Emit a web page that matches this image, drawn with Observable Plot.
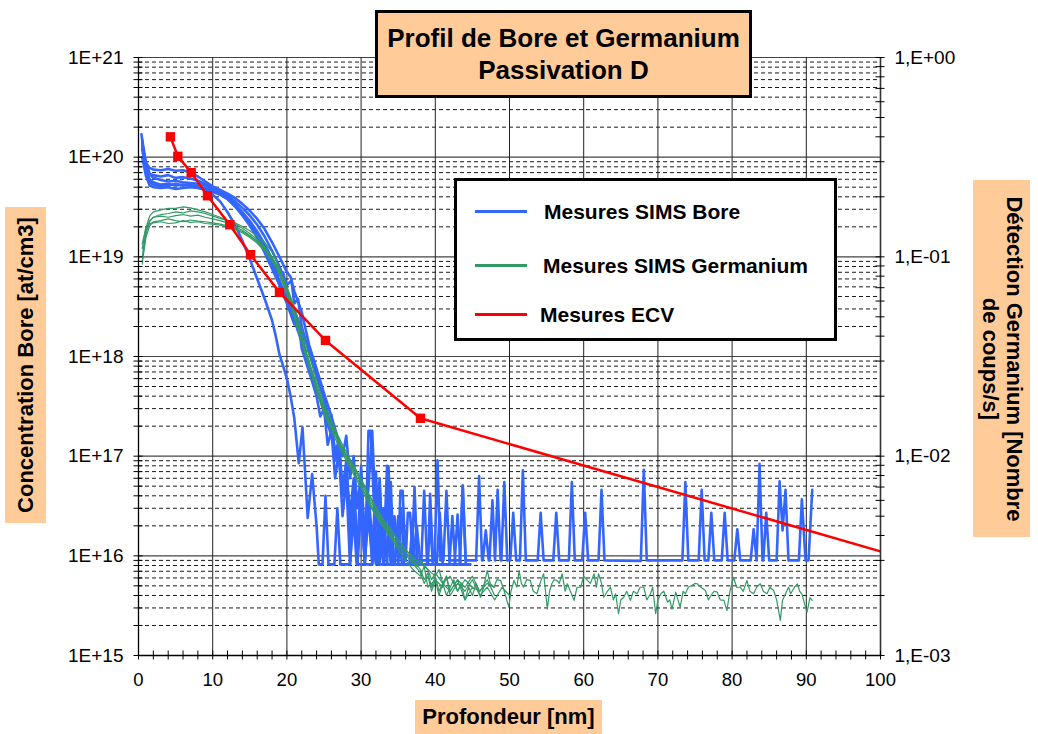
<!DOCTYPE html>
<html><head><meta charset="utf-8">
<script src="https://cdn.jsdelivr.net/npm/d3@7"></script>
<script src="https://cdn.jsdelivr.net/npm/@observablehq/plot@0.6"></script>
<style>
body{margin:0;background:#fff;}
#wrap{position:relative;width:1038px;height:734px;font-family:Arial,"Liberation Sans",sans-serif;color:#000;}
#wrap svg{position:absolute;left:0;top:0;}
.box{position:absolute;background:#ffcc99;box-sizing:border-box;font-weight:bold;}
.rot{position:absolute;left:50%;top:50%;white-space:nowrap;text-align:center;}
.leg-line{position:absolute;height:3px;width:52px;left:18px;}
.leg-text{position:absolute;font-weight:bold;font-size:21px;line-height:24px;white-space:nowrap;}
</style></head><body><div id="wrap"></div>
<script>
// ---------- data ----------
const xDomain = [0, 100];
const yDomain = [1e15, 1e21];                 // Concentration Bore [at/cm3]
const xMajorTicks = [0,10,20,30,40,50,60,70,80,90,100];
const xMinorTicks = [2,4,6,8,12,14,16,18,22,24,26,28,32,34,36,38,42,44,46,48,52,54,56,58,62,64,66,68,72,74,76,78,82,84,86,88,92,94,96,98];
const leftDecades = [1e15,1e16,1e17,1e18,1e19,1e20,1e21];
const leftLabels = ["1E+15","1E+16","1E+17","1E+18","1E+19","1E+20","1E+21"];
const minorMultiples = [2,3,4,5,6,7,8,9];
const rightDecades = [1e-3,1e-2,1e-1,1];      // Détection Germanium [coups/s]
const rightLabels = ["1,E-03","1,E-02","1,E-01","1,E+00"];

// SIMS Bore (at/cm3) : [profondeur nm, concentration]
const bore1 = [[0.4,1.7e20],[0.7,1.1e20],[1,9e19],[1.5,6.8e19],[2,6.2e19],[3,5.9e19],[4,5.7e19],[5,5.8e19],[6,5.6e19],[7,5.5e19],[8,5.4e19],[9,5.2e19],[10,4.9e19],[11,4.5e19],[12,4e19],[13,3.4e19],[14,2.8e19],[15,2.2e19],[16,1.7e19],[17,1.25e19],[18,8.6e18],[19,5.8e18],[20,3.8e18],[21,2.3e18],[22,1.4e18],[23,8e17],[24,4.8e17],[25,2.8e17],[26,1.6e17],[27,9e16],[27.5,5e16],[28,8e16],[28.5,2.5e16],[29,6e16],[29.5,1.2e16],[30,3.5e16],[30.5,9e15],[31,2.5e16],[31.5,9e15],[32,4.5e16],[32.5,1.6e16],[33,9e15],[33.5,8e16],[34,9e15],[35,9e15],[35.3,4.5e16],[35.6,4.5e16],[36,9e15],[36.3,2.7e16],[36.6,2.7e16],[37,9e15],[39.9,9e15],[40.3,9.1e16],[40.7,9e15],[41.1,9e15],[41.5,4.5e16],[41.9,9e15],[43.3,9e15],[43.7,5.1e16],[44.1,9e15],[45.5,9e15],[45.9,6.3e16],[46.3,9e15],[46.4,9e15],[46.8,1.8e16],[47.2,9e15],[47.3,9e15],[47.7,3.6e16],[48.05,9e15],[48.4,4.6e16],[48.8,9e15],[48.9,9e15],[49.3,5.5e16],[49.7,9e15],[50.1,9e15],[50.5,2.7e16],[50.9,9e15],[51.4,9e15],[51.8,7.2e16],[52.2,9e15],[53.8,9e15],[54.2,2.7e16],[54.6,9e15],[55.9,9e15],[56.3,2.7e16],[56.7,9e15],[58,9e15],[58.4,5.5e16],[58.8,9e15],[59.8,9e15],[60.2,2.7e16],[60.6,9e15],[62,9e15],[62.4,4.6e16],[62.8,9e15],[67.7,8.9e15],[68.1,7.3e16],[68.5,9e15],[73.3,9e15],[73.7,5.5e16],[74.1,9e15],[75.5,9e15],[75.9,4.6e16],[76.3,9e15],[76.8,9e15],[77.2,2.7e16],[77.6,9e15],[78.6,9e15],[79,2.7e16],[79.4,9e15],[80.3,9e15],[80.7,1.85e16],[81.1,9e15],[82.5,9e15],[82.9,1.85e16],[83.3,9e15],[83.7,8.4e16],[84.1,9e15],[84.2,9e15],[84.6,2.7e16],[85,9e15],[86,9e15],[86.4,5.6e16],[86.8,1.8e16],[87.2,4.6e16],[87.6,9e15],[89,9e15],[89.4,3.7e16],[89.9,9e15],[90.3,9e15],[90.8,4.6e16]];
const bore2 = [[0.5,1.5e20],[1,8.8e19],[1.5,7.8e19],[2,7.5e19],[3,7.4e19],[4,7.6e19],[5,7.3e19],[6,7.4e19],[7,7e19],[8,6.4e19],[9,5.7e19],[10,5.1e19],[11,4.7e19],[12,4.3e19],[13,3.9e19],[14,3.4e19],[15,2.9e19],[16,2.4e19],[17,1.9e19],[18,1.4e19],[19,1e19],[20,7e18],[20.5,6.3e18],[21,4.5e18],[22,2.8e18],[23,1.3e18],[24,7.5e17],[25,4.3e17],[26,2.5e17],[27,1.4e17],[27.5,1e17],[28,1.6e17],[28.5,6e16],[29,1e17],[29.5,3e16],[30,7e16],[30.5,1.5e16],[31,5e16],[31.5,1.8e17],[32,2e16],[32.5,6e16],[33,8.2e15],[33.5,4e16],[34,8.2e15],[34.5,2.5e16],[35,8.2e15],[36.8,8.2e15],[37.2,4.9e16],[37.6,8.2e15],[39,8.2e15],[39.3,4.2e16],[39.7,8.2e15],[42.6,8.2e15],[43,2.6e16],[43.4,8.2e15],[44.7,8.2e15]];
const bore3 = [[0.5,1.2e20],[1,7.5e19],[1.5,6e19],[2,5.6e19],[3,5.3e19],[4,5.4e19],[5,5.2e19],[6,5.3e19],[7,5.2e19],[8,5e19],[9,4.7e19],[10,4.2e19],[11,3.6e19],[12,2.8e19],[13,2.1e19],[14,1.45e19],[15,9.5e18],[16,6e18],[17,3.8e18],[18,2.3e18],[18.5,1.6e18],[19,1.05e18],[19.5,8e17],[20,6e17],[20.5,4e17],[21,2.4e17],[21.6,8.5e16],[22.1,1.95e17],[22.5,6e16],[22.8,2.4e16],[23.4,6.6e16],[24,2e16],[24.3,8.2e15],[24.8,8.2e15],[25.2,4e16],[25.6,8.2e15],[26.4,8.2e15],[26.8,3e16],[27.2,8.2e15],[28.5,8.2e15],[29,2.5e16],[29.4,8.2e15],[31.5,8.2e15],[31.9,1.5e16],[32.3,8.2e15],[34.5,8.2e15]];
const bore4 = [[0.5,1.4e20],[1,8e19],[1.5,6.8e19],[2,6.6e19],[3,6.4e19],[4,6.6e19],[5,6.2e19],[6,6.3e19],[7,6.1e19],[8,5.8e19],[9,5.4e19],[10,5e19],[11,4.6e19],[12,4.1e19],[13,3.6e19],[14,3.1e19],[15,2.6e19],[16,2.1e19],[17,1.6e19],[18,1.15e19],[19,8e18],[20,5.2e18],[20.6,5.8e18],[21,3.4e18],[21.5,3.8e18],[22,2e18],[23,1.1e18],[24,6.5e17],[25,3.8e17],[25.5,2e17],[26,2.6e17],[26.5,1e17],[27,1.5e17],[27.5,4e16],[28,9e16],[28.5,1.5e16],[29,5e16],[29.5,8.2e15],[30,6e16],[30.5,1.2e16],[31,3.5e16],[31.5,8.2e15],[32,7e16],[32.5,8.2e15],[33,3e16],[33.5,8.2e15],[34,5.5e16],[34.4,8.2e15],[36.5,8.2e15],[36.9,2e16],[37.3,8.2e15],[38.1,8.2e15],[38.5,4.5e16],[38.9,8.2e15],[40.2,8.2e15],[40.6,2.7e16],[41,8.2e15],[43.3,8.2e15],[43.7,5e16],[44.1,8.2e15],[44.7,8.2e15]];
const bore5 = [[0.5,1.3e20],[1,7e19],[1.5,5.6e19],[2,5.3e19],[3,5.1e19],[4,5.2e19],[5,5.4e19],[6,5.2e19],[7,5.3e19],[8,5.1e19],[9,4.9e19],[10,4.7e19],[11,4.3e19],[12,3.8e19],[13,3.2e19],[14,2.6e19],[15,2.05e19],[16,1.55e19],[17,1.1e19],[18,7.6e18],[19,5.2e18],[20,3.4e18],[21,2.1e18],[21.5,2.4e18],[22,1.2e18],[23,7e17],[24,4e17],[24.5,2.5e17],[25,3e17],[25.5,1.3e17],[26,1.8e17],[26.5,6e16],[27,1.1e17],[27.5,2.5e16],[28,6e16],[28.5,8.2e15],[29,4e16],[29.5,1e16],[30,8e16],[30.5,8.2e15],[31,4e16],[31.5,1.5e16],[32,8.2e15],[32.5,5e16],[33,8.2e15],[33.7,7.9e16],[34.1,8.2e15],[35,8.2e15],[35.4,3e16],[35.8,8.2e15],[38.9,8.2e15],[39.3,2e16],[39.7,8.2e15],[41.9,8.2e15],[42.3,2.5e16],[42.7,8.2e15],[44.5,8.2e15]];
const bore6 = [[0.5,1e20],[1,6.5e19],[1.5,5.2e19],[2,5e19],[3,4.9e19],[4,5e19],[5,4.8e19],[6,4.9e19],[7,5e19],[8,4.9e19],[9,4.7e19],[10,4.5e19],[11,4.2e19],[12,3.8e19],[13,3.3e19],[14,2.8e19],[15,2.3e19],[16,1.8e19],[17,1.35e19],[18,9.5e18],[19,6.5e18],[19.5,7e18],[20,4.5e18],[21,2.9e18],[22,1.8e18],[22.5,1.1e18],[23,1.2e18],[24,6.5e17],[25,3.6e17],[26,2e17],[26.5,9e16],[27,1.3e17],[27.5,5e16],[28,8e16],[28.5,2e16],[29,4.5e16],[29.5,8.2e15],[30,3e16],[30.5,8.2e15],[31,1.8e17],[31.3,1.8e17],[31.8,2.5e16],[32.3,8.2e15],[33,3e16],[33.5,8.2e15],[34.5,8.2e15],[35,2.5e16],[35.5,8.2e15],[37,8.2e15],[37.5,2e16],[38,8.2e15],[40,8.2e15]];

// SIMS Germanium (coups/s, right axis) : [profondeur nm, coups/s]
const germ1 = [[0.5,0.092],[1,0.13],[1.5,0.15],[2,0.158],[3,0.163],[4,0.165],[5,0.168],[6,0.166],[7,0.17],[8,0.168],[9,0.165],[10,0.16],[11,0.156],[12,0.152],[13,0.148],[14,0.142],[15,0.135],[16,0.127],[17,0.118],[18,0.106],[19,0.088],[20,0.07],[21,0.053],[22,0.039],[23,0.029],[24,0.022],[25,0.0168],[26,0.0142],[27,0.0118],[28,0.01],[29,0.0087],[30,0.0074],[31,0.0062],[32,0.0053],[33,0.0046],[34,0.0041],[35,0.0036],[36,0.0033],[37,0.003],[38,0.0027],[38.5,0.0024],[39,0.0026],[39.5,0.0022],[40,0.0025],[40.5,0.0021],[41,0.0023],[41.5,0.002],[42,0.0022],[42.5,0.0024],[43,0.0021],[43.5,0.0023],[44,0.0019],[44.5,0.0022],[45,0.002],[45.5,0.0023],[46.1,0.00196],[46.5,0.0022],[47,0.00267],[47.4,0.0023],[47.9,0.0022],[48.3,0.0024],[48.8,0.00238],[49.3,0.0021],[49.9,0.00175],[50.2,0.0021],[50.6,0.00238],[51,0.0022],[51.3,0.00267],[51.6,0.0023],[51.9,0.0022],[52.3,0.0024],[52.8,0.00238],[53.2,0.0021],[53.7,0.00204],[54.1,0.0023],[54.6,0.00257],[55.1,0.00171],[55.4,0.0021],[55.7,0.00229],[56,0.0024],[56.4,0.00238],[56.7,0.0023],[57.1,0.00257],[57.5,0.0021],[57.8,0.00229],[58.2,0.0021],[58.7,0.00189],[59.1,0.0022],[59.6,0.0022],[60,0.0025],[60.5,0.00238],[60.9,0.0023],[61.4,0.00257],[61.7,0.0022],[62,0.00257],[62.4,0.0023],[62.7,0.00196],[63.2,0.0021],[63.6,0.0022],[64,0.0019],[64.3,0.00204],[64.7,0.00162],[65,0.0019],[65.4,0.00196],[65.8,0.0021],[66.3,0.00189],[66.7,0.0021],[67.2,0.00204],[67.6,0.0022],[68.1,0.0022],[68.5,0.0019],[69,0.00204],[69.3,0.0022],[69.7,0.00162],[70,0.0019],[70.4,0.00204],[70.8,0.0021],[71.3,0.00185],[71.6,0.0019],[71.9,0.00171],[72.4,0.00208],[72.7,0.0019],[73,0.00175],[73.4,0.0021],[73.7,0.00204],[74.1,0.0022],[74.6,0.00225],[75,0.0023],[75.3,0.00229],[75.8,0.0022],[76.4,0.00212],[76.8,0.0019],[77.3,0.00204],[77.6,0.0021],[78,0.00208],[78.4,0.0019],[78.9,0.00189],[79.3,0.00168],[79.7,0.0021],[80.2,0.00247],[80.6,0.0022],[81.1,0.0022],[81.5,0.0021],[82,0.00238],[82.4,0.0021],[82.9,0.00204],[83.3,0.0022],[83.8,0.00229],[84.2,0.0021],[84.7,0.00204],[85.1,0.0022],[85.6,0.00212],[86,0.0019],[86.5,0.0015],[86.8,0.0019],[87.2,0.00204],[87.6,0.0022],[87.9,0.00204],[88.4,0.0022],[88.8,0.00229],[89.1,0.0021],[89.4,0.00204],[89.8,0.0018],[90.1,0.00165],[90.5,0.00195],[90.8,0.00189]];
const germ2 = [[0.5,0.11],[1,0.14],[1.5,0.16],[2,0.168],[3,0.172],[4,0.175],[5,0.175],[6,0.178],[7,0.176],[8,0.172],[9,0.168],[10,0.163],[11,0.158],[12,0.152],[13,0.146],[14,0.139],[15,0.131],[16,0.122],[17,0.112],[18,0.1],[19,0.085],[20,0.068],[21,0.052],[22,0.04],[23,0.03],[24,0.023],[25,0.0175],[26,0.0145],[27,0.012],[28,0.0102],[29,0.0089],[30,0.0076],[31,0.0064],[32,0.0055],[33,0.0047],[34,0.0042],[35,0.0038],[36,0.0034],[37,0.0031],[38,0.0029],[39,0.0027],[40,0.0025],[40.5,0.0027],[41,0.0023],[41.5,0.0025],[42,0.0021],[43,0.0024],[44,0.0022],[45,0.0025],[46,0.0021],[47,0.0023],[48,0.0022]];
const germ3 = [[0.5,0.1],[1,0.135],[1.5,0.152],[2,0.158],[3,0.16],[4,0.158],[5,0.161],[6,0.163],[7,0.16],[8,0.162],[9,0.158],[10,0.155],[11,0.152],[12,0.148],[13,0.142],[14,0.136],[15,0.128],[16,0.119],[17,0.109],[18,0.097],[19,0.083],[20,0.066],[21,0.05],[22,0.038],[23,0.0285],[24,0.0218],[25,0.0168],[26,0.014],[27,0.0116],[28,0.0098],[29,0.0084],[30,0.0071],[31,0.006],[32,0.0051],[33,0.0045],[34,0.004],[35,0.0035],[36,0.0032],[37,0.0029],[38,0.0026],[38.5,0.0023],[39,0.0025],[39.5,0.0021],[40,0.0024],[41,0.0022],[41.5,0.0025],[42,0.002],[43,0.0023],[44,0.0021],[45,0.0024],[46,0.002],[47,0.0022],[48,0.0019],[49,0.0022],[50,0.002]];
const germ4 = [[0.5,0.095],[1,0.125],[1.5,0.143],[2,0.15],[3,0.152],[4,0.155],[5,0.152],[6,0.15],[7,0.153],[8,0.151],[9,0.15],[10,0.148],[11,0.146],[12,0.143],[13,0.139],[14,0.134],[15,0.127],[16,0.12],[17,0.11],[18,0.099],[19,0.086],[20,0.071],[21,0.056],[22,0.043],[23,0.032],[24,0.024],[25,0.0182],[26,0.015],[27,0.0124],[28,0.0105],[29,0.009],[30,0.0077],[31,0.0065],[32,0.0056],[33,0.0048],[34,0.0043],[35,0.0038],[36,0.0034],[37,0.0031],[37.5,0.0028],[38,0.003],[39,0.0027],[39.5,0.0024],[40,0.0026],[41,0.0023],[42,0.0025],[43,0.0021],[44,0.0024],[45,0.0022]];
const germ5 = [[0.5,0.116],[1,0.14],[1.5,0.147],[2,0.148],[3,0.15],[4,0.147],[5,0.148],[6,0.152],[7,0.149],[8,0.15],[9,0.147],[10,0.146],[11,0.144],[12,0.141],[13,0.137],[14,0.132],[15,0.125],[16,0.117],[17,0.107],[18,0.095],[19,0.081],[20,0.065],[21,0.05],[22,0.037],[23,0.028],[24,0.0212],[25,0.0162],[26,0.0135],[27,0.0112],[28,0.0095],[29,0.0081],[30,0.0069],[31,0.0058],[32,0.005],[33,0.0044],[34,0.0039],[35,0.0034],[36,0.003],[37,0.0027],[38,0.0025],[38.5,0.0028],[39,0.0022],[40,0.0024],[40.5,0.002],[41,0.0023],[42,0.0021],[43,0.0024],[44,0.0019],[45,0.0022],[46,0.0021],[47,0.0024],[48,0.002]];

// ECV (at/cm3) : last point lies beyond the 100 nm edge (clipped)
const ecv = [[4.3,1.6e20],[5.3,1.02e20],[7.1,7e19],[9.3,4.1e19],[12.3,2.1e19],[15.1,1.05e19],[19,4.4e18],[25.2,1.45e18],[38,2.4e17],[120,4.1e15]];

// ---------- helpers ----------
// right axis (coups/s) ↔ left axis (at/cm3): 1E-03 ↔ 1E+15, 1E+00 ↔ 1E+21
const toLeft = c => yDomain[0] * Math.pow(c / rightDecades[0], 2);
const rows = (arr, s, f = v => v) => arr.map(([x, v]) => ({x, y: f(v), s}));
const boreRows = [bore1,bore2,bore3,bore4,bore5,bore6].flatMap((a,i) => rows(a, "B"+i));
const germRows = [germ1,germ2,germ3,germ4,germ5].flatMap((a,i) => rows(a, "G"+i, toLeft));
const ecvRows = rows(ecv, "ECV");
const minorLeft = leftDecades.slice(0,-1).flatMap(d => minorMultiples.map(m => m*d));
const minorRight = rightDecades.slice(0,-1).flatMap(d => minorMultiples.map(m => toLeft(m*d)));
const rightMajor = rightDecades.map(toLeft);
const font = 'Arial, "Liberation Sans", sans-serif';

const chart = Plot.plot({
  width: 1038, height: 734,
  marginTop: 57, marginBottom: 79, marginLeft: 138, marginRight: 158,
  x: {domain: xDomain, axis: null},
  y: {type: "log", domain: yDomain, axis: null},
  style: {fontFamily: font, fontSize: "19px", color: "#000", background: "#fff"},
  marks: [
    Plot.ruleY(minorLeft, {stroke: "#000", strokeWidth: 1, strokeDasharray: "4,3", strokeOpacity: 0.9}),
    Plot.ruleY(leftDecades, {stroke: "#444", strokeWidth: 1.2}),
    Plot.ruleX(xMajorTicks.slice(1, -1), {stroke: "#222", strokeWidth: 1}),
    Plot.line(boreRows, {x: "x", y: "y", z: "s", stroke: "#3366ff", strokeWidth: 2.6, clip: true}),
    Plot.line(germRows, {x: "x", y: "y", z: "s", stroke: "#339966", strokeWidth: 1.2, clip: true}),
    Plot.line(ecvRows, {x: "x", y: "y", stroke: "#ff0000", strokeWidth: 2.5, clip: true}),
    Plot.dot(ecvRows, {x: "x", y: "y", symbol: "square", fill: "#ff0000", r: 5.3, clip: true}),
    // axis lines
    Plot.ruleX([xDomain[0]], {stroke: "#000", strokeWidth: 1.3}),
    Plot.ruleX([xDomain[1]], {stroke: "#333", strokeWidth: 1.6}),
    Plot.ruleY([yDomain[0]], {stroke: "#000", strokeWidth: 1.3}),
    // crossing ticks
    Plot.ruleY(leftDecades.concat(minorLeft), {x1: xDomain[0], x2: xDomain[0], insetLeft: -4.5, insetRight: -4.5, stroke: "#000"}),
    Plot.ruleY(rightMajor.concat(minorRight), {x1: xDomain[1], x2: xDomain[1], insetLeft: -4.5, insetRight: -4.5, stroke: "#000"}),
    Plot.ruleX(xMajorTicks.concat(xMinorTicks), {y1: yDomain[0], y2: yDomain[0], insetTop: -4.5, insetBottom: -4.5, stroke: "#000"}),
    // tick labels
    Plot.text(leftDecades, {y: d => d, text: (d, i) => leftLabels[i], frameAnchor: "left", textAnchor: "end", dx: -15, fontSize: 19}),
    Plot.text(rightMajor, {y: d => d, text: (d, i) => rightLabels[i], frameAnchor: "right", textAnchor: "start", dx: 14, fontSize: 19}),
    Plot.text(xMajorTicks, {x: d => d, text: d => String(d), frameAnchor: "bottom", dy: 30, fontSize: 18.5})
  ]
});
const wrap = document.getElementById("wrap");
wrap.appendChild(chart);

// overlay boxes (title, legend, axis titles)
wrap.insertAdjacentHTML("beforeend", `
<div class="box" style="left:375px;top:10px;width:377px;height:88px;border:3px solid #000;display:flex;align-items:center;justify-content:center;text-align:center;font-size:26px;line-height:32px;">Profil de Bore et Germanium<br>Passivation D</div>
<div style="position:absolute;left:454px;top:178px;width:383px;height:163px;box-sizing:border-box;border:3px solid #000;background:#fff;">
  <div class="leg-line" style="top:29px;background:#3366ff;"></div><div class="leg-text" style="top:19px;left:87px;">Mesures SIMS Bore</div>
  <div class="leg-line" style="top:83px;background:#339966;"></div><div class="leg-text" style="top:73px;left:86px;">Mesures SIMS Germanium</div>
  <div class="leg-line" style="top:132px;background:#ff0000;"></div><div class="leg-text" style="top:122px;left:83px;">Mesures ECV</div>
</div>
<div class="box" style="left:5px;top:207px;width:41px;height:316px;"><div class="rot" style="transform:translate(-50%,-50%) rotate(-90deg);font-size:22px;">Concentration Bore [at/cm3]</div></div>
<div class="box" style="left:973px;top:180px;width:57px;height:357px;"><div class="rot" style="transform:translate(-50%,-50%) rotate(90deg);font-size:22px;line-height:24px;">Détection Germanium [Nombre<br>de coups/s]</div></div>
<div class="box" style="left:415px;top:700px;width:187px;height:34px;display:flex;align-items:center;justify-content:center;font-size:22px;">Profondeur [nm]</div>
`);
</script>
</body></html>
